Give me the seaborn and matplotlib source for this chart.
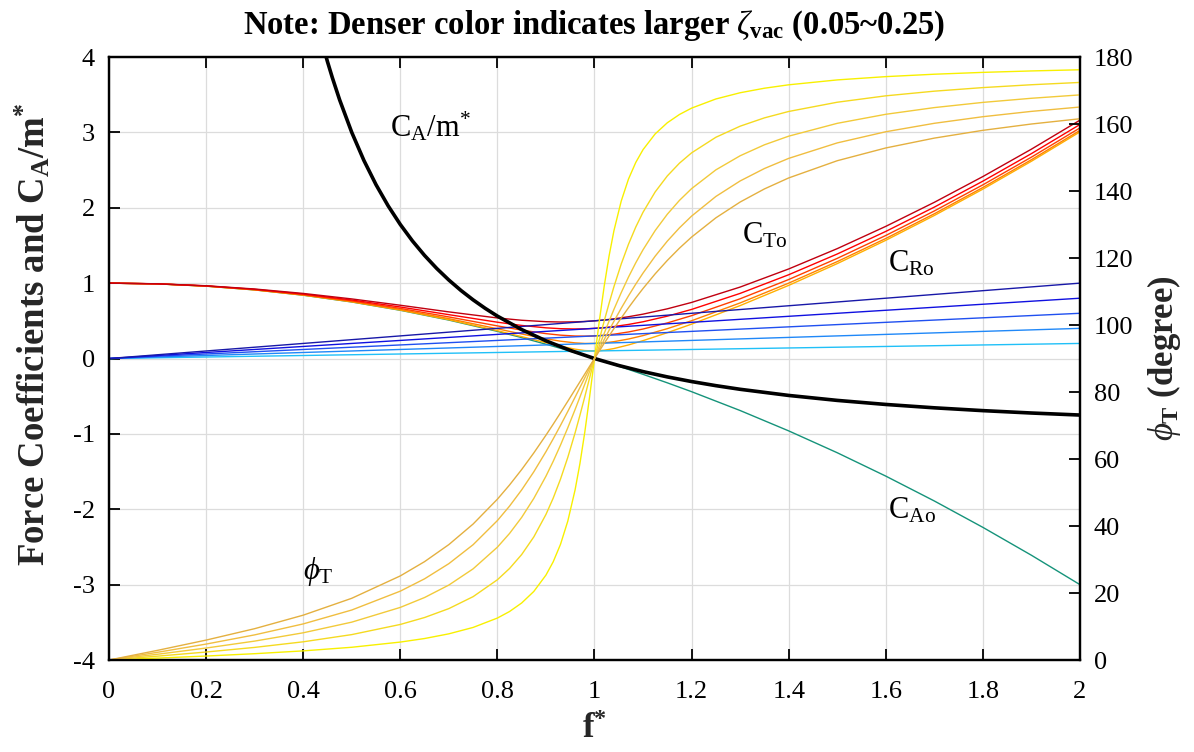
import seaborn as sns
import matplotlib
matplotlib.use('Agg')
import matplotlib.pyplot as plt

# damping ratios 0.05, 0.10, 0.15, 0.20, 0.25 (light -> dense colour)
F = [0, 0.1, 0.2, 0.3, 0.4, 0.5, 0.6, 0.7, 0.8, 0.85, 0.9, 0.93, 0.96, 0.98, 1.0,
     1.02, 1.04, 1.07, 1.1, 1.15, 1.2, 1.3, 1.4, 1.5, 1.6, 1.7, 1.8, 1.9, 2.0]

CTO_005 = [1, 0.9901, 0.9602, 0.9105, 0.8410, 0.7517, 0.6428, 0.5148, 0.3688, 0.2902, 0.2102, 0.1640, 0.1240, 0.1057, 0.1,
           0.1097, 0.1322, 0.1801, 0.2371, 0.3424, 0.4561, 0.7021, 0.9702, 1.2590, 1.5682, 1.8976, 2.2472, 2.6169, 3.0067]
CTO_010 = [1, 0.9902, 0.9608, 0.9120, 0.8438, 0.7566, 0.6512, 0.5289, 0.3940, 0.3254, 0.2617, 0.2299, 0.2074, 0.2000, 0.2,
           0.2080, 0.2234, 0.2585, 0.3041, 0.3961, 0.5012, 0.7374, 1.0, 1.2855, 1.5925, 1.9203, 2.2687, 2.6375, 3.0265]
CTO_015 = [1, 0.9905, 0.9619, 0.9145, 0.8485, 0.7649, 0.6648, 0.5515, 0.4327, 0.3768, 0.3302, 0.3099, 0.2985, 0.2967, 0.3,
           0.3087, 0.3225, 0.3522, 0.3912, 0.4722, 0.5685, 0.7926, 1.0479, 1.3285, 1.6322, 1.9576, 2.3042, 2.6715, 3.0594]
CTO_020 = [1, 0.9908, 0.9633, 0.9179, 0.8551, 0.7762, 0.6835, 0.5818, 0.4817, 0.4389, 0.4071, 0.3958, 0.3919, 0.3940, 0.4,
           0.4100, 0.4239, 0.4519, 0.4875, 0.5618, 0.6512, 0.8640, 1.1114, 1.3865, 1.6862, 2.0086, 2.3529, 2.7184, 3.1048]
CTO_025 = [1, 0.9913, 0.9652, 0.9223, 0.8635, 0.7906, 0.7068, 0.6185, 0.5381, 0.5076, 0.4885, 0.4842, 0.4864, 0.4916, 0.5,
           0.5116, 0.5264, 0.5543, 0.5887, 0.6592, 0.7440, 0.9479, 1.1881, 1.4577, 1.7532, 2.0723, 2.4140, 2.7775, 3.1623]

CAO = [1, 0.99, 0.96, 0.91, 0.84, 0.75, 0.64, 0.51, 0.36, 0.2775, 0.19, 0.1351, 0.0784, 0.0396, 0,
       -0.0404, -0.0816, -0.1449, -0.21, -0.3225, -0.44, -0.69, -0.96, -1.25, -1.56, -1.89, -2.24, -2.61, -3.0]

# phase angle (degree), right axis
F_PHI = [0, 0.1, 0.2, 0.3, 0.4, 0.5, 0.6, 0.65, 0.7, 0.75, 0.8, 0.825, 0.85, 0.875, 0.9, 0.915, 0.93, 0.945,
         0.96, 0.97, 0.98, 0.99, 1.0, 1.01, 1.02, 1.03, 1.04, 1.055, 1.07, 1.085, 1.1, 1.125, 1.15, 1.175,
         1.2, 1.25, 1.3, 1.35, 1.4, 1.5, 1.6, 1.7, 1.8, 1.9, 2.0]
PHI_005 = [0, 0.58, 1.19, 1.89, 2.73, 3.81, 5.36, 6.42, 7.82, 9.73, 12.53, 14.48, 17.03, 20.47, 25.35, 29.34, 34.54, 41.46,
           50.77, 58.64, 68.00, 78.64, 90, 101.25, 111.61, 120.59, 128.12, 136.97, 143.56, 148.52, 152.35, 157.05, 160.37, 162.84,
           164.74, 167.47, 169.33, 170.68, 171.70, 173.16, 174.14, 174.86, 175.41, 175.84, 176.19]
PHI_010 = [0, 1.16, 2.39, 3.77, 5.44, 7.59, 10.62, 12.69, 15.35, 18.92, 23.96, 27.32, 31.49, 36.75, 43.45, 48.35, 54.01, 60.49,
           67.79, 73.06, 78.58, 84.26, 90, 95.68, 101.20, 106.47, 111.42, 118.18, 124.10, 129.24, 133.67, 139.73, 144.50, 148.31,
           151.39, 156.04, 159.35, 161.83, 163.74, 166.50, 168.41, 169.80, 170.87, 171.72, 172.41]
PHI_015 = [0, 1.73, 3.58, 5.65, 8.13, 11.31, 15.71, 18.66, 22.38, 27.22, 33.69, 37.78, 42.58, 48.24, 54.87, 59.33, 64.16, 69.33,
           74.77, 78.52, 82.33, 86.17, 90, 93.80, 97.52, 101.15, 104.66, 109.65, 114.30, 118.57, 122.47, 128.20, 133.07, 137.20,
           140.71, 146.31, 150.52, 153.79, 156.37, 160.20, 162.90, 164.90, 166.45, 167.68, 168.69]
PHI_020 = [0, 2.31, 4.76, 7.51, 10.78, 14.93, 20.56, 24.24, 28.77, 34.43, 41.63, 45.94, 50.79, 56.19, 62.18, 66.03, 70.04, 74.20,
           78.46, 81.34, 84.23, 87.12, 90, 92.85, 95.65, 98.41, 101.10, 104.99, 108.70, 112.21, 115.51, 120.55, 125.04, 129.00,
           132.51, 138.37, 143.00, 146.71, 149.74, 154.36, 157.69, 160.21, 162.18, 163.77, 165.07]
PHI_025 = [0, 2.89, 5.95, 9.36, 13.39, 18.43, 25.11, 29.37, 34.46, 40.60, 48.01, 52.25, 56.86, 61.82, 67.11, 70.41, 73.80, 77.24,
           80.72, 83.05, 85.38, 87.70, 90, 92.28, 94.53, 96.74, 98.92, 102.09, 105.15, 108.09, 110.90, 115.28, 119.28, 122.94,
           126.25, 131.99, 136.71, 140.62, 143.90, 149.04, 152.85, 155.79, 158.11, 160.00, 161.57]

F_RO = [0, 2]
CRO_005 = [0, 0.2]
CRO_010 = [0, 0.4]
CRO_015 = [0, 0.6]
CRO_020 = [0, 0.8]
CRO_025 = [0, 1.0]

F_CA = [0.44, 0.45, 0.46, 0.475, 0.5, 0.525, 0.55, 0.575, 0.6, 0.625, 0.65, 0.675, 0.7, 0.725, 0.75, 0.775, 0.8,
        0.85, 0.9, 0.95, 1.0, 1.05, 1.1, 1.15, 1.2, 1.25, 1.3, 1.4, 1.5, 1.6, 1.7, 1.8, 1.9, 2.0]
CA_M = [4.165, 3.938, 3.726, 3.432, 3.0, 2.628, 2.306, 2.025, 1.778, 1.56, 1.367, 1.195, 1.041, 0.9025, 0.778, 0.665, 0.5625,
        0.384, 0.2346, 0.108, 0, -0.093, -0.1736, -0.2439, -0.3056, -0.36, -0.4083, -0.4898, -0.5556, -0.6094, -0.654,
        -0.6914, -0.723, -0.75]

CTO_COLORS = ['#ffb000', '#ff8000', '#ff4000', '#ff0000', '#c00010']
PHI_COLORS = ['#f8f000', '#f5da20', '#f2ca3a', '#f0be40', '#e4b040']
CRO_COLORS = ['#20c0f8', '#2088f8', '#2050f0', '#1010e0', '#1818a8']

sns.set_theme(style='white')
plt.rcParams['font.family'] = ['Liberation Serif', 'DejaVu Serif']
plt.rcParams['mathtext.fontset'] = 'custom'
plt.rcParams['mathtext.rm'] = 'Liberation Serif'
plt.rcParams['mathtext.it'] = 'Liberation Serif:italic'
plt.rcParams['mathtext.bf'] = 'Liberation Serif:bold'
plt.rcParams['axes.unicode_minus'] = False
plt.rcParams['text.color'] = 'black'

fig = plt.figure(figsize=(11.94, 7.52), dpi=100)
ax = fig.add_axes([0.0913, 0.1223, 0.8132, 0.8019])

lw = 1.0

sns.lineplot(x=F, y=CAO, ax=ax, color='#15937a', lw=lw, sort=False, estimator=None)

for y, c in zip([CTO_005, CTO_010, CTO_015, CTO_020, CTO_025], CTO_COLORS):
    sns.lineplot(x=F, y=y, ax=ax, color=c, lw=lw, sort=False, estimator=None)

for y, c in zip([CRO_005, CRO_010, CRO_015, CRO_020, CRO_025], CRO_COLORS):
    sns.lineplot(x=F_RO, y=y, ax=ax, color=c, lw=lw, sort=False, estimator=None)

sns.lineplot(x=F_CA, y=CA_M, ax=ax, color='black', lw=2.6, sort=False, estimator=None)

ax.set_xlim(0, 2)
ax.set_ylim(-4, 4)
ax.set_xticks([0, 0.2, 0.4, 0.6, 0.8, 1, 1.2, 1.4, 1.6, 1.8, 2])
ax.set_xticklabels(['0', '0.2', '0.4', '0.6', '0.8', '1', '1.2', '1.4', '1.6', '1.8', '2'])
ax.set_yticks(range(-4, 5))
ax.grid(True, color='#dcdcdc', lw=0.9)
ax.tick_params(direction='in', length=8, width=1.3, labelsize=19, colors='black',
               top=True, left=True, bottom=True)
ax.tick_params(axis='x', pad=15)
ax.tick_params(axis='y', pad=10)

ax2 = ax.twinx()
for y, c in zip([PHI_005, PHI_010, PHI_015, PHI_020, PHI_025], PHI_COLORS):
    sns.lineplot(x=F_PHI, y=y, ax=ax2, color=c, lw=lw, sort=False, estimator=None)
ax2.set_ylim(0, 180)
ax2.set_yticks(range(0, 181, 20))
ax2.tick_params(direction='in', length=8, width=1.3, labelsize=19, colors='black', right=True, pad=10)

for a in (ax, ax2):
    for s in a.spines.values():
        s.set_color('black')
        s.set_linewidth(1.6)

ax.set_xlabel('f$^{\\mathbf{*}}$', fontsize=25, fontweight='bold', labelpad=7)
ax.set_ylabel('Force Coefficients and C$_{\\mathbf{A}}$/m$^{\\mathbf{*}}$', fontsize=26.5, fontweight='bold')
ax.yaxis.set_label_coords(-0.058, 0.54)
ax2.set_ylabel('$\\phi_{\\mathbf{T}}$ (degree)', fontsize=25, fontweight='bold', labelpad=8)
ax.set_title('Note: Denser color indicates larger $\\zeta_{\\mathbf{vac}}$ (0.05~0.25)',
             fontsize=23.5, fontweight='bold', pad=17)

ts = 22
ax.text(0.579, 2.94, 'C$_{\\mathrm{A}}$/m$^{*}$', fontsize=ts, va='baseline')
ax.text(1.304, 1.53, 'C$_{\\mathrm{To}}$', fontsize=ts, va='baseline')
ax.text(1.605, 1.15, 'C$_{\\mathrm{Ro}}$', fontsize=ts, va='baseline')
ax.text(1.605, -2.12, 'C$_{\\mathrm{Ao}}$', fontsize=ts, va='baseline')
ax.text(0.40, -2.92, '$\\phi_{\\mathrm{T}}$', fontsize=ts, va='baseline')

fig.savefig('out.png', dpi=100)
